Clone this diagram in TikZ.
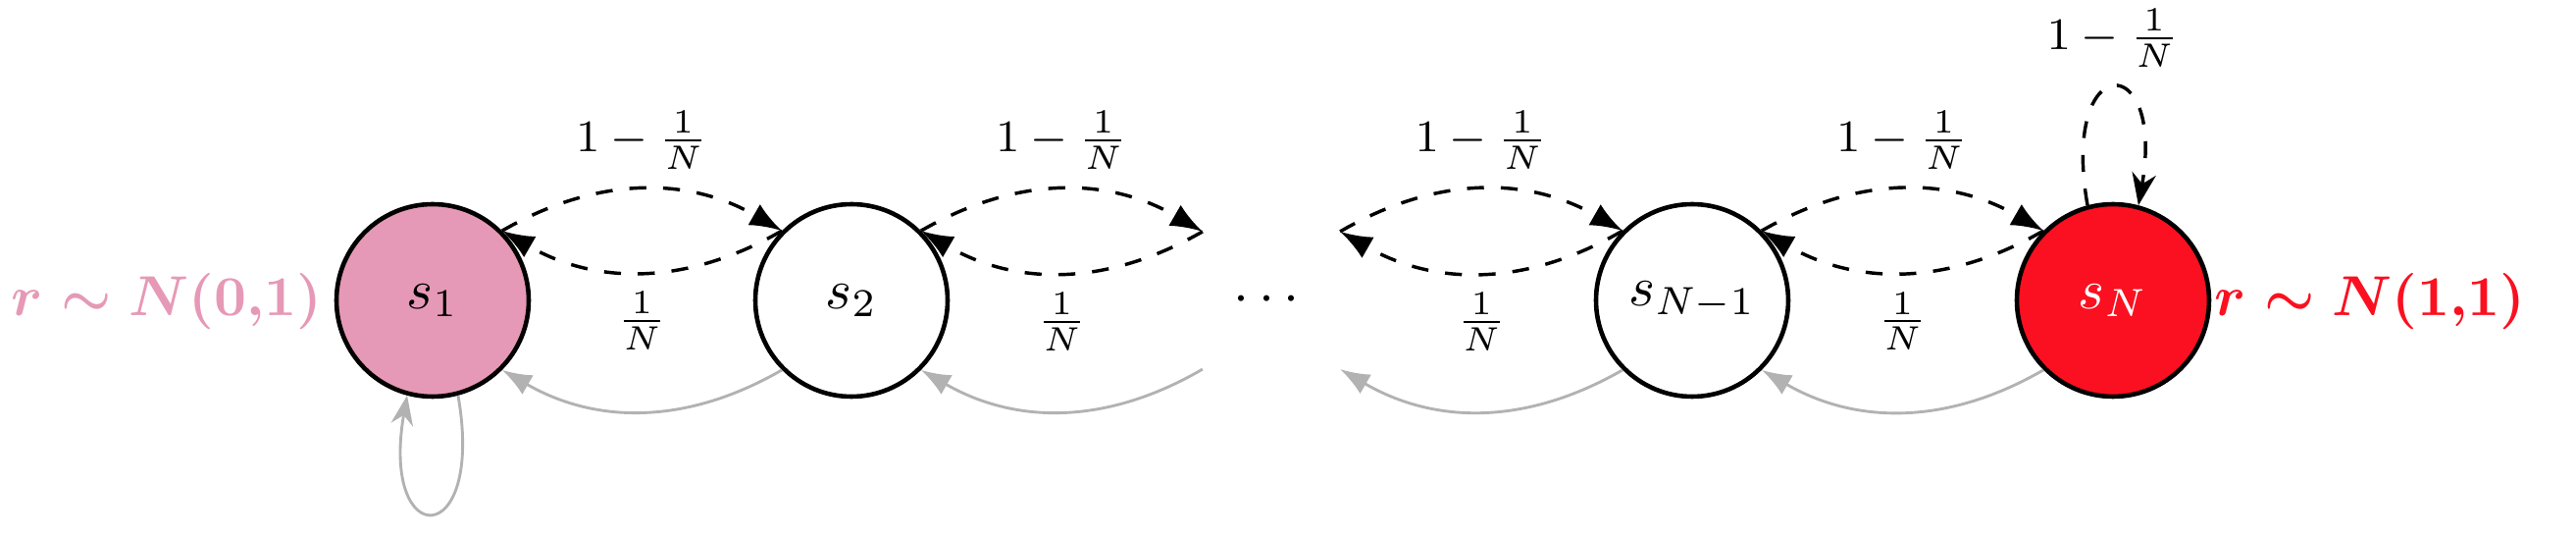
\documentclass[tikz,border=0pt]{standalone}
\usepackage{amsmath}
\usetikzlibrary{arrows.meta}
\definecolor{pinkfill}{RGB}{230,153,182}
\definecolor{redfill}{RGB}{250,16,32}
\begin{document}
\begin{tikzpicture}[x={(0.17422pt,0pt)}, y={(0pt,-0.17422pt)},
  state/.style={circle, draw=black, thick, minimum size=1.2cm, inner sep=0pt},
  ghost/.style={circle, minimum size=1.2cm, inner sep=0pt},
  fwd/.style={semithick, dashed, -{Latex}},
  back/.style={black!30, line width=0.5pt, -{Latex}},
  loopb/.style={black!30, line width=0.5pt, -{Stealth}},
  loopt/.style={semithick, dashed, -{Stealth}},
  lab/.style={font=\footnotesize}]
\useasboundingbox (0,0) rectangle (2626,546);

\node[state, fill=pinkfill] (s1) at (441,306) {$s_1$};
\node[state] (s2) at (868,306) {$s_2$};
\node[ghost] (dots) at (1296,306) {$\cdots$};
\node[state] (sN1) at (1725,306) {$s_{N-1}$};
\node[state, fill=redfill, text=white] (sN) at (2154,306) {$s_N$};

\node[text=pinkfill] (lA) at (170,307) {$\boldsymbol{r\sim N(0{,}1)}$};
\node[text=redfill] (lB) at (2416,307) {$\boldsymbol{r\sim N(1{,}1)}$};

% forward (dashed) and backward (dashed) arcs
\draw[fwd] (s1.45) to[bend left] node[lab, above] {$1-\frac{1}{N}$} (s2.135);
\draw[fwd] (s2.135) to[bend left] node[lab, below] {$\frac{1}{N}$} (s1.45);
\draw[fwd] (s2.45) to[bend left] node[lab, above] {$1-\frac{1}{N}$} (dots.135);
\draw[fwd] (dots.135) to[bend left] node[lab, below] {$\frac{1}{N}$} (s2.45);
\draw[fwd] (dots.45) to[bend left] node[lab, above] {$1-\frac{1}{N}$} (sN1.135);
\draw[fwd] (sN1.135) to[bend left] node[lab, below] {$\frac{1}{N}$} (dots.45);
\draw[fwd] (sN1.45) to[bend left] node[lab, above] {$1-\frac{1}{N}$} (sN.135);
\draw[fwd] (sN.135) to[bend left] node[lab, below] {$\frac{1}{N}$} (sN1.45);

% gray return arcs
\draw[back] (s2.225) to[bend left] (s1.315);
\draw[back] (dots.225) to[bend left] (s2.315);
\draw[back] (sN1.225) to[bend left] (dots.315);
\draw[back] (sN.225) to[bend left] (sN1.315);

% self loops
\draw[loopb] (s1.-75) to[out=-80, in=-100, looseness=8] (s1.-105);
\draw[loopt] (sN.105) to[out=100, in=80, looseness=8] node[lab, above] {$1-\frac{1}{N}$} (sN.75);
\end{tikzpicture}
\end{document}
